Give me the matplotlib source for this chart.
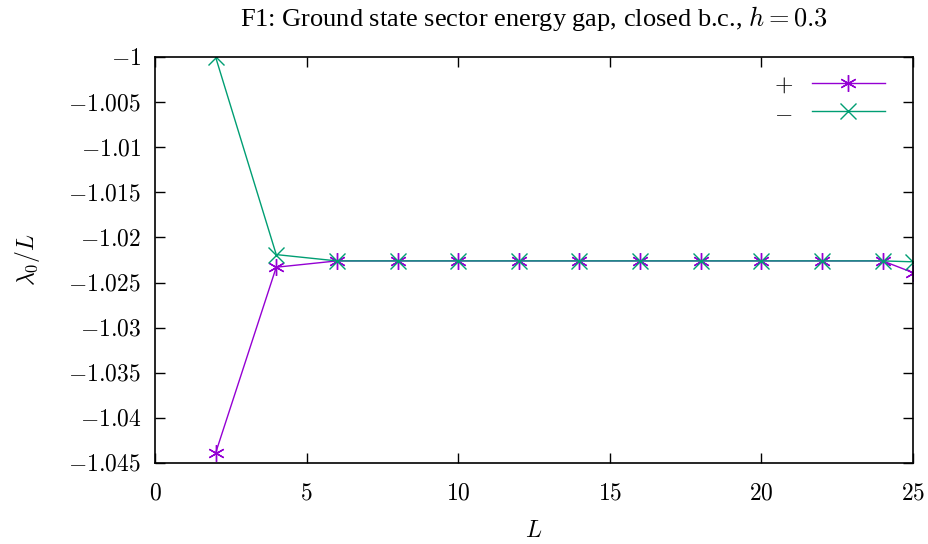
import matplotlib.pyplot as plt
import numpy as np

plt.rcParams['mathtext.fontset'] = 'cm'
plt.rcParams['font.family'] = ['Liberation Serif', 'DejaVu Serif']

L = [2, 4, 6, 8, 10, 12, 14, 16, 18, 20, 22, 24, 25]
gap_plus = [-1.0439, -1.0233, -1.0226, -1.0226, -1.0226, -1.0226, -1.0226,
            -1.0226, -1.0226, -1.0226, -1.0226, -1.0226, -1.0239]
gap_minus = [-1.0000, -1.0219, -1.0226, -1.0226, -1.0226, -1.0226, -1.0226,
             -1.0226, -1.0226, -1.0226, -1.0226, -1.0226, -1.0227]

fig = plt.figure(figsize=(9.29, 5.44), dpi=100)
ax = fig.add_axes([0.1668, 0.1489, 0.816, 0.7463])

ax.plot(L, gap_plus, color='#9400d3', lw=1, marker=(6, 2, 0), ms=12, mew=1,
        label='$+$')
ax.plot(L, gap_minus, color='#009e73', lw=1, marker='x', ms=12, mew=1,
        label='$-$')

ax.set_xlim(0, 25)
ax.set_ylim(-1.045, -1.0)
ax.set_xticks(np.arange(0, 26, 5))
ax.set_yticks(np.arange(-1.045, -0.9999, 0.005))
ax.set_xticklabels(['$%d$' % v for v in range(0, 26, 5)])
ytl = []
for v in np.arange(-1.045, -0.9999, 0.005):
    s = ('%.3f' % v).rstrip('0').rstrip('.')
    ytl.append('$' + s + '$')
ax.set_yticklabels(ytl)
ax.tick_params(direction='in', length=7, width=1, top=True, right=True,
               labelsize=17)
ax.tick_params(axis='x', pad=15)
ax.tick_params(axis='y', pad=10)
for sp in ax.spines.values():
    sp.set_linewidth(1.2)

ax.set_xlabel('$L$', fontsize=17, labelpad=12)
ax.set_ylabel(r'$\lambda_0/L$', fontsize=17, labelpad=19)
ax.set_title('F1: Ground state sector energy gap, closed b.c., $h = 0.3$',
             fontsize=19, pad=22)

ax.legend(loc='upper right', bbox_to_anchor=(0.980, 0.988), frameon=False,
          markerfirst=False, fontsize=17, handlelength=3.1,
          borderaxespad=0.15, labelspacing=0.25, handletextpad=0.8)

fig.savefig('out.png', dpi=100)
